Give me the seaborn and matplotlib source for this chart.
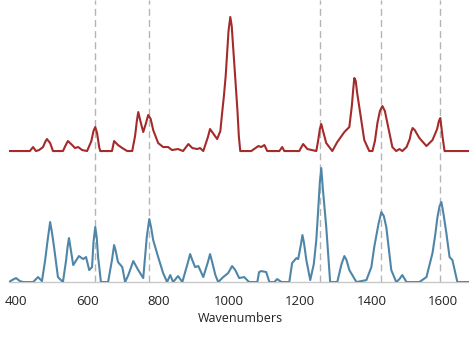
import numpy as np
import pandas as pd
import matplotlib
matplotlib.use("Agg")
import matplotlib.pyplot as plt
import seaborn as sns

# Top (red) spectrum: wavenumber, intensity (arbitrary units)
red_wn = [380, 439, 448, 456, 465, 476, 482, 487, 496, 504, 532, 540, 546, 558, 566, 575, 586, 600,
          612, 618, 623, 628, 634, 637, 670, 676, 687, 699, 713, 727, 735, 740, 744, 750, 758, 765,
          772, 779, 786, 800, 814, 828, 839, 856, 870, 885, 896, 910, 918, 927, 940, 946, 952, 966,
          975, 980, 985, 990, 998, 1003, 1007, 1011, 1016, 1023, 1027, 1031,
          1062, 1070, 1082, 1090, 1099, 1107, 1141, 1149, 1155, 1197, 1208, 1220, 1245, 1250, 1255,
          1259, 1264, 1273, 1290, 1304, 1324, 1338, 1345, 1349, 1352, 1356, 1360, 1366, 1380, 1394,
          1403, 1410, 1417, 1424, 1431, 1438, 1445, 1459, 1470, 1479, 1487, 1499, 1508, 1512, 1516,
          1522, 1535, 1555, 1572, 1585, 1590, 1594, 1600, 1606, 1676]
red_int = [0, 0, 4, 0, 1, 4, 9, 12, 8, 0, 0, 6, 10, 6, 3, 4, 1, 0,
           10, 20, 24, 18, 4, 0, 0, 10, 6, 3, 0, 0, 15, 30, 39, 30, 19, 27,
           36, 32, 21, 8, 4, 4, 1, 2, 0, 7, 3, 2, 3, 0, 14, 22, 19, 12,
           20, 38, 55, 75, 120, 134, 125, 104, 78, 41, 15, 0,
           0, 2, 5, 4, 6, 0, 0, 4, 0, 0, 7, 2, 0, 10, 22,
           27, 20, 8, 0, 9, 19, 24, 45, 62, 73, 70, 58, 44, 11, 0,
           0, 10, 28, 40, 45, 40, 28, 4, 0, 2, 0, 4, 12, 19, 23,
           21, 13, 5, 11, 22, 30, 33, 15, 0, 0]

# Bottom (blue) spectrum
blue_wn = [380, 389, 400, 411, 420, 448, 462, 473, 482, 489, 496, 501, 507, 518, 532, 541, 545, 549,
           553, 561, 577, 589, 597, 606, 614, 618, 623, 627, 631, 639, 659, 670, 676, 680, 687, 699,
           707, 716, 730, 744, 758, 768, 775, 780, 786, 800, 814, 825, 834, 842, 856, 868, 876, 884,
           890, 896, 904, 913, 927, 940, 946, 952, 961, 969, 983, 997, 1008, 1017, 1028, 1042, 1056,
           1079, 1084, 1090, 1104, 1113, 1127, 1135, 1147, 1169, 1177, 1189, 1194, 1202, 1206, 1210,
           1217, 1228, 1238, 1245, 1250, 1255, 1259, 1263, 1268, 1273, 1284, 1304, 1316, 1324, 1330,
           1338, 1358, 1386, 1400, 1408, 1420, 1428, 1435, 1442, 1456, 1470, 1479, 1487, 1499, 1535,
           1555, 1572, 1580, 1586, 1592, 1597, 1603, 1611, 1620, 1628, 1642, 1676]
blue_int = [0, 2, 4, 1, 0, 0, 5, 1, 22, 42, 60, 50, 35, 5, 0, 22, 35, 44,
            35, 17, 26, 23, 25, 12, 15, 40, 55, 45, 25, 0, 0, 22, 37, 32, 20, 15,
            0, 7, 21, 12, 4, 45, 63, 55, 42, 25, 9, 0, 7, 0, 6, 0, 10, 20,
            28, 22, 15, 16, 5, 20, 28, 20, 7, 0, 5, 9, 16, 12, 4, 5, 0,
            0, 10, 11, 10, 0, 0, 3, 0, 0, 19, 24, 23, 38, 47, 40,
            22, 2, 18, 42, 70, 100, 114, 95, 75, 55, 0, 0, 18, 26, 22,
            12, 0, 2, 15, 35, 58, 70, 66, 55, 12, 0, 3, 7, 0, 0,
            5, 29, 48, 65, 76, 80, 68, 49, 25, 22, 0, 0]

red_offset = 131
marker_lines = [622, 775, 1256, 1428, 1594]
xticks = [400, 600, 800, 1000, 1200, 1400, 1600]

sns.set_theme(style="white")
plt.rcParams['font.family'] = ['Open Sans', 'DejaVu Sans']

fig = plt.figure(figsize=(4.69, 3.37), dpi=100)
ax = fig.add_axes([0.019, 0.163, 0.985, 0.837])

df_red = pd.DataFrame({"Wavenumbers": red_wn, "y": np.array(red_int) + red_offset})
df_blue = pd.DataFrame({"Wavenumbers": blue_wn, "y": blue_int})

for xv in marker_lines:
    ax.axvline(xv, color="#b5b5b5", lw=1.0, ls=(0, (5, 3)), zorder=1)

sns.lineplot(data=df_red, x="Wavenumbers", y="y", ax=ax, color="#a52a2a", lw=1.5,
             estimator=None, sort=False, zorder=3)
sns.lineplot(data=df_blue, x="Wavenumbers", y="y", ax=ax, color="#4f86a8", lw=1.5,
             estimator=None, sort=False, zorder=3)

ax.set_xlim(380, 1680)
ax.set_ylim(0, 282)
ax.set_yticks([])
ax.set_ylabel("")
ax.set_xticks(xticks)
ax.set_xticklabels([str(t) for t in xticks])
ax.set_xlabel("Wavenumbers", fontsize=9, color="#222222", labelpad=3)
ax.tick_params(axis="x", labelsize=9.5, length=3, width=0.8, color="#bbbbbb",
               labelcolor="#222222", pad=6, direction="out")
for s in ["top", "right", "left"]:
    ax.spines[s].set_visible(False)
ax.spines["bottom"].set_color("#c8c8c8")
ax.spines["bottom"].set_linewidth(1.0)

fig.savefig("out.png", dpi=100)
